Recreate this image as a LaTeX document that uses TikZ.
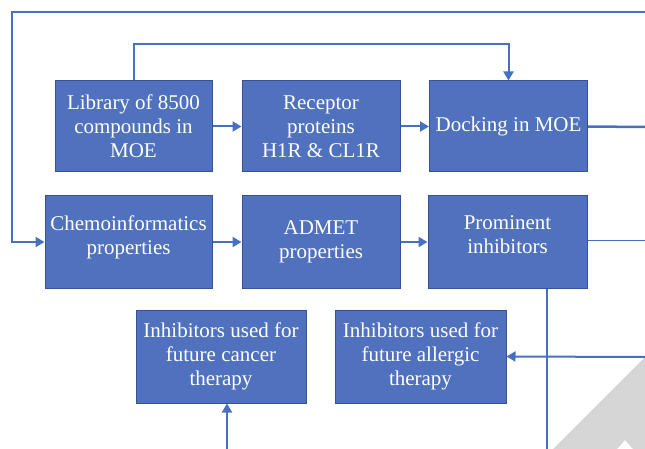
\documentclass[tikz,border=0pt]{standalone}
\usepackage{fontspec}
\setmainfont{Liberation Serif}
\usetikzlibrary{arrows.meta}
\definecolor{boxfill}{RGB}{80,114,190}
\definecolor{boxline}{RGB}{52,82,150}
\definecolor{conn}{RGB}{72,112,192}
\definecolor{tri}{RGB}{214,214,214}
\begin{document}
\begin{tikzpicture}[x=1pt,y=-1pt,
  stepbox/.style={rectangle,draw=boxline,line width=1pt,fill=boxfill,text=white,
    align=center,inner sep=1pt,font=\fontsize{21}{24}\selectfont},
  conline/.style={draw=conn,line width=2pt},
  thinline/.style={draw=conn,line width=1pt},
  arr/.style={-{Triangle[length=9pt,width=10pt]}}]
\useasboundingbox (0,0) rectangle (645,449);
\fill[tri] (553,449) -- (645,357) -- (645,449) -- (633,449) -- (625,440) -- (617,449) -- cycle;
% nodes
\node[stepbox,minimum width=157pt,minimum height=91pt] (lib) at (133.5,126.5) {Library of 8500\\compounds in\\MOE};
\node[stepbox,minimum width=158pt,minimum height=91pt] (rec) at (321,126.5) {Receptor\\proteins\\H1R \& CL1R};
\node[stepbox,minimum width=158pt,minimum height=91pt] (dock) at (508.5,126.5) {Docking in MOE};
\node[stepbox,minimum width=167pt,minimum height=92pt] (chemo) at (128.5,242) {Chemoinformatics\\properties\\[-17pt]\strut};
\node[stepbox,minimum width=158pt,minimum height=92pt] (admet) at (321,242) {ADMET\\properties};
\node[stepbox,minimum width=159pt,minimum height=92pt] (prom) at (507.5,242) {Prominent\\inhibitors\\[-17pt]\strut};
\node[stepbox,minimum width=170pt,minimum height=93pt] (cancer) at (221,356.5) {Inhibitors used for\\future cancer\\therapy};
\node[stepbox,minimum width=171pt,minimum height=93pt] (allerg) at (420.5,356.5) {Inhibitors used for\\future allergic\\therapy};
% free ends
\coordinate (tr) at (645,12);
\coordinate (tl) at (12,12);
\coordinate (loopy) at (0,44);
\coordinate (dr) at (645,127);
\coordinate (pr) at (645,240);
\coordinate (pb) at (547,449);
\coordinate (ar) at (645,357);
\coordinate (cb) at (227,449);
% connectors
\draw[conline,line width=2.5pt,arr] (tr) -- (tl) |- (chemo.west);
\draw[conline,arr] (lib.north) |- (loopy -| lib.north) -- (loopy -| dock.north) -- (dock.north);
\draw[conline,arr] (lib) -- (rec);
\draw[conline,arr] (rec) -- (dock);
\draw[conline,line width=2.5pt] (dock.east) -- (dr);
\draw[conline,arr] (chemo) -- (admet);
\draw[conline,arr] (admet) -- (prom);
\draw[thinline] (prom.east |- pr) -- (pr);
\draw[conline] (prom.south -| pb) -- (pb);
\draw[conline,arr] (ar) -- (allerg.east);
\draw[conline,arr] (cb) -- (cancer.south -| cb);
\end{tikzpicture}
\end{document}
